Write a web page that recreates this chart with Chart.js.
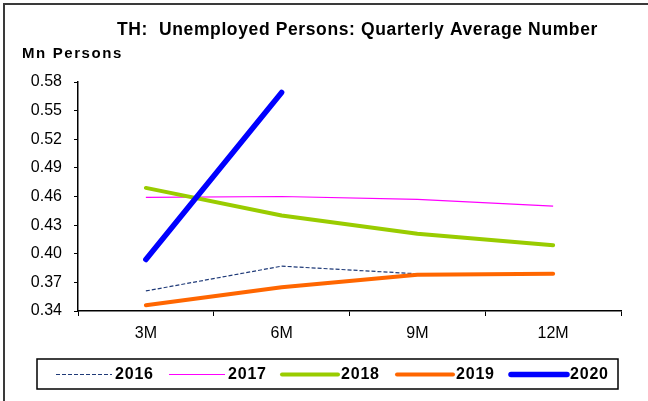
<!DOCTYPE html>
<html>
<head>
<meta charset="utf-8">
<script src="https://cdn.jsdelivr.net/npm/chart.js@4/dist/chart.umd.min.js"></script>
<style>
  html, body { margin: 0; padding: 0; background: #fff; }
  #wrap { width: 648px; height: 401px; position: relative; }
</style>
</head>
<body>
<div id="wrap"><canvas id="c" width="648" height="401"></canvas></div>
<script>
// Quarterly average number of unemployed persons, Thailand (million persons)
const categories = ['3M', '6M', '9M', '12M'];
const seriesNames = ['2016', '2017', '2018', '2019', '2020'];
const values2016 = [0.361, 0.387, 0.379, null];
const values2017 = [0.459, 0.460, 0.457, 0.450];
const values2018 = [0.469, 0.440, 0.421, 0.409];
const values2019 = [0.346, 0.365, 0.378, 0.379];
const values2020 = [0.394, 0.569, null, null];
const yTicks = [0.34, 0.37, 0.40, 0.43, 0.46, 0.49, 0.52, 0.55, 0.58];

const titleText = 'TH:  Unemployed Persons: Quarterly Average Number';
const unitText = 'Mn Persons';
const FONT = '"Liberation Sans", Arial, sans-serif';

const styles = [
  { color: '#1F3A78', width: 1.2, dash: [4, 2] },
  { color: '#FF00FF', width: 1.2, dash: [] },
  { color: '#99CC00', width: 4, dash: [] },
  { color: '#FF6600', width: 4, dash: [] },
  { color: '#0000FF', width: 5.5, dash: [] }
];
const allValues = [values2016, values2017, values2018, values2019, values2020];

const datasets = seriesNames.map((name, i) => ({
  label: name,
  data: allValues[i],
  borderColor: styles[i].color,
  backgroundColor: styles[i].color,
  borderWidth: styles[i].width,
  borderDash: styles[i].dash,
  borderCapStyle: i >= 2 ? 'round' : 'butt',
  borderJoinStyle: 'round',
  pointRadius: 0,
  pointHoverRadius: 0,
  tension: 0,
  spanGaps: false,
  fill: false,
  order: seriesNames.length - i
}));

function spacedText(ctx, text, x, y, spacing) {
  if ('letterSpacing' in ctx) {
    ctx.letterSpacing = spacing + 'px';
    ctx.fillText(text, x, y);
    ctx.letterSpacing = '0px';
  } else {
    ctx.fillText(text, x, y);
  }
}

// Frame, heading, unit caption and boxed legend
const decorations = {
  id: 'decorations',
  beforeDraw(chart) {
    const ctx = chart.ctx;
    ctx.save();
    ctx.fillStyle = '#fff';
    ctx.fillRect(0, 0, chart.width, chart.height);
    ctx.strokeStyle = '#3a3a3a';
    ctx.lineWidth = 2;
    ctx.beginPath();
    ctx.moveTo(4, chart.height + 5);
    ctx.lineTo(4, 4);
    ctx.lineTo(chart.width + 5, 4);
    ctx.stroke();
    ctx.restore();
  },
  afterDraw(chart) {
    const ctx = chart.ctx;
    ctx.save();
    ctx.fillStyle = '#000';
    ctx.textBaseline = 'middle';
    ctx.font = 'bold 17.5px ' + FONT;
    ctx.textAlign = 'left';
    spacedText(ctx, titleText, 117, 30, 0.62);
    ctx.font = 'bold 15px ' + FONT;
    spacedText(ctx, unitText, 22, 54, 1.6);

    // legend box
    const box = { x: 37, y: 359, w: 581, h: 30 };
    ctx.strokeStyle = '#000';
    ctx.lineWidth = 1.5;
    ctx.strokeRect(box.x, box.y, box.w, box.h);
    const cy = box.y + box.h / 2;
    const lineStarts = [56, 169, 282, 397, 511];
    const lineLen = 56;
    ctx.font = 'bold 16px ' + FONT;
    chart.data.datasets.forEach((ds, i) => {
      const x0 = lineStarts[i];
      ctx.beginPath();
      ctx.strokeStyle = ds.borderColor;
      ctx.lineWidth = ds.borderWidth;
      ctx.setLineDash(ds.borderDash || []);
      ctx.lineCap = ds.borderWidth > 2 ? 'round' : 'butt';
      ctx.moveTo(x0, cy + 0.5);
      ctx.lineTo(x0 + lineLen, cy + 0.5);
      ctx.stroke();
      ctx.setLineDash([]);
      ctx.fillStyle = '#000';
      ctx.textAlign = 'left';
      spacedText(ctx, ds.label, x0 + lineLen + 3, cy + 1, 0.8);
    });
    ctx.restore();
  }
};

new Chart(document.getElementById('c'), {
  type: 'line',
  data: { labels: categories, datasets },
  options: {
    responsive: false,
    animation: false,
    events: [],
    layout: { padding: { top: 82, right: 27, bottom: 0, left: 0 } },
    plugins: { legend: { display: false }, title: { display: false }, tooltip: { enabled: false } },
    scales: {
      x: {
        type: 'category',
        offset: true,
        afterFit(scale) { scale.height = 90; },
        grid: { offset: true, drawOnChartArea: false, drawTicks: true, tickLength: 5, color: '#000', lineWidth: 1 },
        border: { display: true, color: '#000', width: 1.5 },
        ticks: { color: '#000', font: { family: FONT, size: 16 }, padding: 8, maxRotation: 0 }
      },
      y: {
        min: 0.34,
        max: 0.58,
        afterFit(scale) { scale.width = 78; },
        afterBuildTicks(scale) { scale.ticks = yTicks.map(v => ({ value: v })); },
        grid: { drawOnChartArea: false, drawTicks: true, tickLength: 4, color: '#000', lineWidth: 1 },
        border: { display: true, color: '#000', width: 1.5 },
        ticks: { color: '#000', font: { family: FONT, size: 16 }, padding: 12, callback: v => Number(v).toFixed(2) }
      }
    }
  },
  plugins: [decorations]
});
</script>
</body>
</html>
